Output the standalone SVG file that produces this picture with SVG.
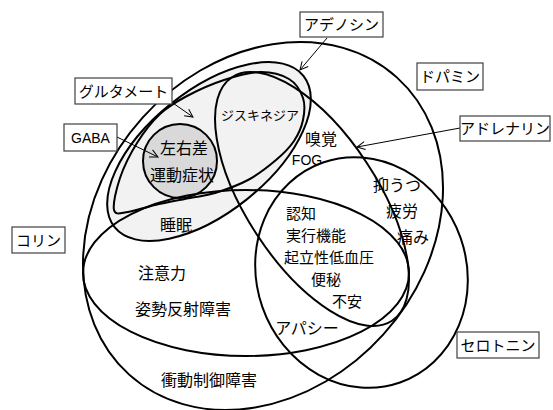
<svg xmlns="http://www.w3.org/2000/svg" width="553" height="410" viewBox="0 0 553 410">
<defs>
<style>
.set{fill:none;stroke:#000;stroke-width:2}
.lbl{font-family:"Noto Sans CJK JP","Noto Sans",sans-serif;font-size:16px;fill:#000;text-anchor:middle}
.sm{font-size:15px}
.box{fill:#fff;stroke:#404040;stroke-width:1.2}
.bt{font-family:"Noto Sans CJK JP","Noto Sans",sans-serif;font-size:15px;fill:#000;text-anchor:middle}
.lat{font-family:"Liberation Sans",Arial,sans-serif;font-size:14px;fill:#000;text-anchor:middle}
.arr{fill:none;stroke:#000;stroke-width:1;marker-end:url(#ah)}
</style>
<marker id="ah" markerUnits="userSpaceOnUse" markerWidth="12" markerHeight="12" refX="10" refY="6" orient="auto">
<path d="M2,2 L10,6 L2,10" fill="none" stroke="#000" stroke-width="1"/>
</marker>
</defs>
<rect width="553" height="410" fill="#fff"/>
<g id="adenosine"><ellipse cx="209" cy="151.5" rx="121" ry="61" transform="rotate(-38.7 209 151.5)" fill="#f2f2f2" stroke="#000" stroke-width="2"/></g>
<g id="gaba"><circle cx="180" cy="161" r="37" fill="#d9d9d9" stroke="#000" stroke-width="2"/></g>
<g id="glutamate"><path class="set" d="M114,210 C112.7,204.3 116.2,189.2 120,178 C123.8,166.8 130.3,153.7 137,143 C143.7,132.3 151.7,121.8 160,114 C168.3,106.2 176.3,101.7 187,96 C197.7,90.3 211.8,84 224,80 C236.2,76 249.2,72.2 260,72 C270.8,71.8 281.8,74.7 289,79 C296.2,83.3 300.7,91.2 303,98 C305.3,104.8 304.5,112.8 303,120 C301.5,127.2 298.5,134.3 294,141 C289.5,147.7 283.7,153.5 276,160 C268.3,166.5 258.2,174.5 248,180 C237.8,185.5 224.7,190 215,193 C205.3,196 200,196 190,198 C180,200 165.3,202.7 155,205 C144.7,207.3 134.8,211.2 128,212 C121.2,212.8 115.3,215.7 114,210 Z"/></g>
<g id="dopamine"><ellipse class="set" cx="263" cy="226" rx="200" ry="162" transform="rotate(-48 263 226)"/></g>
<g id="adrenaline"><ellipse class="set" cx="312" cy="199" rx="145.7" ry="65.6" transform="rotate(56.7 312 199)"/></g>
<g id="choline"><ellipse class="set" cx="246" cy="273" rx="163" ry="83"/></g>
<g id="serotonin"><ellipse class="set" cx="361.5" cy="272.5" rx="105" ry="116.5" transform="rotate(-19.3 361.5 272.5)"/></g>
<g id="labels">
<text class="lbl" x="184" y="154">左右差</text>
<text class="lbl" x="182" y="181">運動症状</text>
<text class="lbl" x="176" y="231">睡眠</text>
<text class="lbl" x="260" y="120" style="font-size:13px">ジスキネジア</text>
<text class="lbl" x="321" y="145">嗅覚</text>
<text class="lat" x="307" y="165">FOG</text>
<text class="lbl" x="397" y="191">抑うつ</text>
<text class="lbl" x="402" y="217">疲労</text>
<text class="lbl" x="413" y="243">痛み</text>
<text class="lbl sm" x="301" y="219">認知</text>
<text class="lbl sm" x="316" y="241">実行機能</text>
<text class="lbl sm" x="329" y="263">起立性低血圧</text>
<text class="lbl sm" x="326" y="285">便秘</text>
<text class="lbl sm" x="347" y="307">不安</text>
<text class="lbl" x="307" y="334">アパシー</text>
<text class="lbl" x="162" y="279">注意力</text>
<text class="lbl" x="183" y="315">姿勢反射障害</text>
<text class="lbl" x="209" y="386">衝動制御障害</text>
</g>
<g id="connectors">
<line class="arr" x1="327" y1="38" x2="300" y2="70"/>
<line class="arr" x1="170" y1="101" x2="193" y2="117"/>
<line class="arr" x1="117" y1="137" x2="158" y2="157"/>
<line class="arr" x1="460" y1="128" x2="357" y2="147"/>
</g>
<g id="box-adenosine"><rect class="box" x="300" y="12" width="83" height="25"/><text class="bt" x="341.5" y="30">アデノシン</text></g>
<g id="box-dopamine"><rect class="box" x="417" y="63" width="66" height="27"/><text class="bt" x="450" y="82">ドパミン</text></g>
<g id="box-adrenaline"><rect class="box" x="460" y="116" width="90" height="25"/><text class="bt" x="505" y="134">アドレナリン</text></g>
<g id="box-glutamate"><rect class="box" x="75" y="78" width="97" height="26"/><text class="bt" x="123.5" y="96.5">グルタメート</text></g>
<g id="box-gaba"><rect class="box" x="64" y="124" width="53" height="27"/><text class="lat" x="90.5" y="142.5">GABA</text></g>
<g id="box-choline"><rect class="box" x="12" y="227" width="53" height="26"/><text class="bt" x="38.5" y="245.5">コリン</text></g>
<g id="box-serotonin"><rect class="box" x="457" y="332" width="82" height="26"/><text class="bt" x="498" y="350.5">セロトニン</text></g>
</svg>
